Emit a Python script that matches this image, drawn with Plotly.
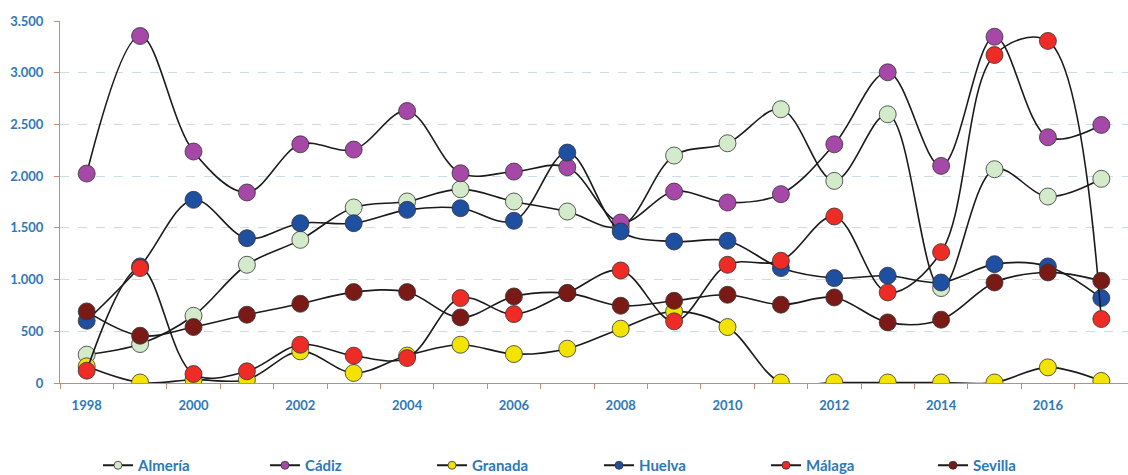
import plotly.graph_objects as go

years = list(range(1998, 2018))

almeria = [274, 377, 650, 1143, 1384, 1697, 1755, 1874, 1755, 1658, 1513, 2199, 2318, 2647, 1954, 2598, 918, 2067, 1803, 1974]
cadiz   = [2025, 3355, 2238, 1842, 2308, 2257, 2630, 2028, 2044, 2086, 1552, 1851, 1745, 1826, 2308, 3004, 2099, 3348, 2376, 2495]
granada = [161, 5, 32, 32, 306, 97, 265, 370, 280, 332, 525, 692, 541, 5, 5, 5, 5, 5, 151, 20]
huelva  = [602, 1127, 1771, 1400, 1545, 1545, 1674, 1690, 1568, 2228, 1465, 1368, 1375, 1111, 1014, 1037, 972, 1149, 1127, 821]
malaga  = [119, 1111, 87, 113, 370, 264, 241, 821, 666, 870, 1088, 596, 1143, 1182, 1610, 876, 1265, 3171, 3307, 618]
sevilla = [692, 457, 541, 660, 766, 879, 879, 634, 837, 869, 747, 795, 853, 757, 827, 586, 612, 972, 1069, 988]

series = [
    ("Almería", almeria, "#D3EACB"),
    ("Cádiz", cadiz, "#A548A8"),
    ("Granada", granada, "#F2E400"),
    ("Huelva", huelva, "#1F4FA0"),
    ("Málaga", malaga, "#EE2B25"),
    ("Sevilla", sevilla, "#7A1A16"),
]

y_ticks = [0, 500, 1000, 1500, 2000, 2500, 3000, 3500]
y_tick_text = ["0", "500", "1.000", "1.500", "2.000", "2.500", "3.000", "3.500"]
x_label_years = list(range(1998, 2017, 2))

label_color = "#2E78B8"
axis_color = "#C98A72"
font_family = "Lato, 'Open Sans', sans-serif"

fig = go.Figure()
for name, vals, color in series:
    fig.add_trace(go.Scatter(
        x=years, y=vals, name=name, mode="lines+markers", showlegend=False,
        line=dict(color="#1a1a1a", width=1.6, shape="spline", smoothing=1.0),
        marker=dict(size=17, color=color, line=dict(color="#333333", width=0.8)),
    ))
# legend-only entries with small symbols, like the reference legend
for name, vals, color in series:
    fig.add_trace(go.Scatter(
        x=[None], y=[None], name=name, mode="lines+markers", showlegend=True,
        line=dict(color="#1a1a1a", width=2),
        marker=dict(size=8, color=color, line=dict(color="#333333", width=0.8)),
    ))

fig.update_layout(
    width=1128, height=475,
    margin=dict(l=60, r=0, t=21, b=92),
    paper_bgcolor="white", plot_bgcolor="white",
    font=dict(family=font_family, color=label_color, size=13),
    showlegend=True,
    legend=dict(
        orientation="h", xref="container", yref="container",
        x=98 / 1128, xanchor="left", y=0.02, yanchor="middle",
        font=dict(family=font_family, size=15, color=label_color, weight="bold"),
        entrywidth=122, entrywidthmode="pixels",
        itemwidth=30,
    ),
)

fig.update_xaxes(
    range=[1997.5, 2017.5],
    tickvals=x_label_years, ticktext=[str(y) for y in x_label_years],
    ticks="", showgrid=False, zeroline=False,
    showline=True, linecolor=axis_color, linewidth=1,
    tickfont=dict(family=font_family, size=13, color=label_color, weight="bold"),
    ticklabelstandoff=10,
    minor=dict(tickvals=[y - 0.5 for y in years] + [2017.5], ticks="outside",
               ticklen=5, tickcolor=axis_color, showgrid=False),
)

fig.update_yaxes(
    range=[0, 3500],
    tickvals=y_ticks, ticktext=y_tick_text,
    ticks="outside", ticklen=5, tickcolor=axis_color,
    showline=True, linecolor=axis_color, linewidth=1,
    showgrid=True, gridcolor="#C9DCE8", griddash="dash", gridwidth=1,
    zeroline=False,
    tickfont=dict(family=font_family, size=13, color=label_color, weight="bold"),
    ticklabelstandoff=8,
)

fig.write_html("out.html")
